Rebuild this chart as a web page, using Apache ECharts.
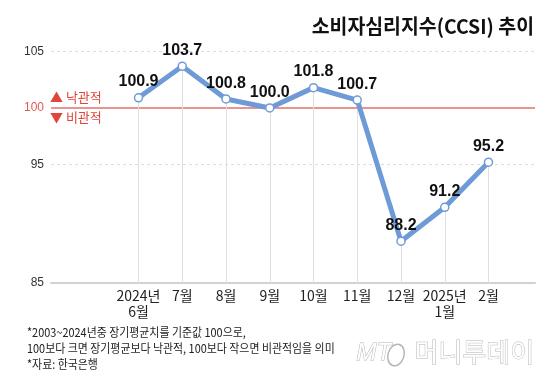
<!DOCTYPE html>
<html>
<head>
<meta charset="utf-8">
<script src="https://cdn.jsdelivr.net/npm/echarts@6/dist/echarts.min.js"></script>
<style>
html,body{margin:0;padding:0;background:#fff;}
#c{width:560px;height:380px;}
</style>
</head>
<body>
<div id="c"></div>
<script>
const categories = ['2024년\n6월','7월','8월','9월','10월','11월','12월','2025년\n1월','2월'];
const ccsi = [100.9, 103.7, 100.8, 100.0, 101.8, 100.7, 88.2, 91.2, 95.2];
const yTicks = [85, 95, 100, 105];
const dashedLevels = [105, 95];
const baseline = 100;
const title = '소비자심리지수(CCSI) 추이';
const notes = ['*2003~2024년중 장기평균치를 기준값 100으로,', '100보다 크면 장기평균보다 낙관적, 100보다 작으면 비관적임을 의미', '*자료: 한국은행'];

const yMin = 84.5, yMax = 105;
const KR = "'Noto Sans CJK KR', 'Liberation Sans', sans-serif";
const NUM = "'Liberation Sans Narrow', 'Liberation Sans', sans-serif";
const idx = categories.map((c, i) => i);
const pts = ccsi.map((v, i) => [i, v]);

const levelLines = dashedLevels.map(v => ({yAxis: v, lineStyle: {color: '#dcdcdc', type: [3, 3], width: 1}}))
  .concat([{yAxis: baseline, lineStyle: {color: '#e8958f', type: 'solid', width: 2}}]);
const dropLines = pts.map(p => [
  {coord: [p[0], yMin], lineStyle: {color: '#e0e0e0', type: 'solid', width: 1}},
  {coord: [p[0], p[1]]}
]);

const chart = echarts.init(document.getElementById('c'), null, {renderer: 'canvas'});
chart.setOption({
  animation: false,
  backgroundColor: '#fff',
  grid: {left: 51, right: 25, top: 51.5, bottom: 97, containLabel: false},
  xAxis: {
    type: 'value', min: -2, max: -2 + 484 / 43.75,
    axisLine: {show: true, onZero: false, lineStyle: {color: '#d2d2d2', width: 2}},
    axisTick: {show: false},
    splitLine: {show: false},
    axisLabel: {
      customValues: idx, margin: 5, color: '#222', fontSize: 14, lineHeight: 16,
      fontFamily: KR, formatter: v => categories[Math.round(v)]
    }
  },
  yAxis: {
    type: 'value', min: yMin, max: yMax,
    axisLine: {show: false}, axisTick: {show: false}, splitLine: {show: false},
    axisLabel: {
      customValues: yTicks.map(v => v === 85 ? yMin : v),
      margin: 7, fontSize: 12, color: '#333', fontFamily: NUM,
      formatter: v => {
        const t = v === yMin ? '85' : String(v);
        return v === baseline ? '{r|' + t + '}' : t;
      },
      rich: {r: {color: '#e05a52', fontSize: 12, fontFamily: NUM}}
    }
  },
  series: [
    {
      type: 'line', data: pts, z: 1, silent: true, showSymbol: false,
      lineStyle: {opacity: 0}, label: {show: false},
      markLine: {
        silent: true, symbol: 'none', label: {show: false}, z: 1,
        data: levelLines.concat(dropLines)
      }
    },
    {
      type: 'line', data: pts, z: 5,
      lineStyle: {color: '#6e9bd8', width: 5},
      symbol: 'circle', symbolSize: 8,
      itemStyle: {color: '#fff', borderColor: '#6e9bd8', borderWidth: 1.5},
      label: {
        show: true, position: 'top', distance: 3,
        fontFamily: NUM, fontWeight: 'bold', fontSize: 16, color: '#111',
        formatter: p => p.value[1].toFixed(1)
      }
    }
  ],
  graphic: [
    {type: 'text', x: 534, y: 26, scaleX: 0.97, style: {text: title, font: 'bold 20px ' + KR, fill: '#111', align: 'right', verticalAlign: 'middle'}},
    {type: 'text', left: 50, top: 91, style: {text: '▲ 낙관적', font: '13px ' + KR, fill: '#e0453b'}},
    {type: 'text', left: 50, top: 111, style: {text: '▼ 비관적', font: '13px ' + KR, fill: '#e0453b'}},
    {type: 'text', x: 27, y: 332, scaleX: 0.91, style: {text: notes[0], font: '12px ' + KR, fill: '#222', verticalAlign: 'middle'}},
    {type: 'text', x: 27, y: 348, scaleX: 0.91, style: {text: notes[1], font: '12px ' + KR, fill: '#222', verticalAlign: 'middle'}},
    {type: 'text', x: 27, y: 364, scaleX: 0.91, style: {text: notes[2], font: '12px ' + KR, fill: '#222', verticalAlign: 'middle'}},
    {type: 'text', left: 356, top: 341, style: {text: 'MT', font: 'italic 24px ' + NUM, fill: '#fff', stroke: '#b5b5b5', lineWidth: 1}},
    {type: 'ellipse', shape: {cx: 396, cy: 355, rx: 8, ry: 11}, rotation: -0.3, originX: 396, originY: 355, style: {fill: 'none', stroke: '#b5b5b5', lineWidth: 1.5}},
    {type: 'text', left: 414, top: 339, style: {text: '머니투데이', font: '26px ' + KR, fill: '#fff', stroke: '#b5b5b5', lineWidth: 1}}
  ]
});
</script>
</body>
</html>
